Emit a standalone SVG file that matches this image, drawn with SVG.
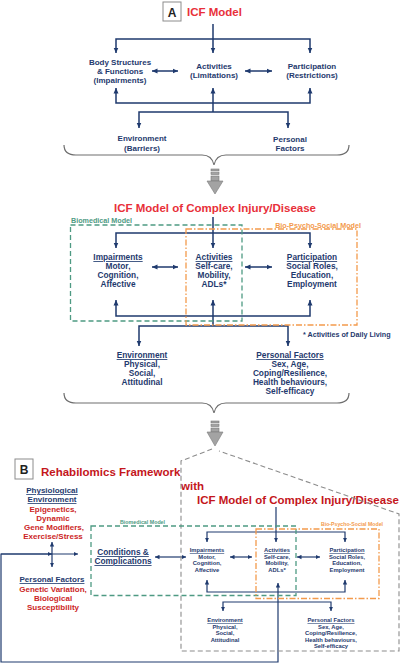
<svg xmlns="http://www.w3.org/2000/svg" width="400" height="664" viewBox="0 0 400 664">
<style>
text{font-family:"Liberation Sans",Arial,sans-serif;font-weight:bold}
.n{fill:#1f3a6e;font-size:8px;text-anchor:middle}
.m{fill:#1f3a6e;font-size:8.3px;text-anchor:middle}
.s{fill:#1f3a6e;font-size:5.8px;text-anchor:middle}
.r{fill:#cc1f26;font-size:8px;text-anchor:middle}
.u{text-decoration:underline}
.t1{fill:#e8303a;font-size:11.5px}
.t2{fill:#c4161c;font-size:11.5px}
.ln{fill:none;stroke:#1f3a6e;stroke-width:1.5}
.lns{fill:none;stroke:#1f3a6e;stroke-width:1.2}
.a{marker-end:url(#ah)}
.aa{marker-start:url(#ah);marker-end:url(#ah)}
.sa{marker-end:url(#as)}
.saa{marker-start:url(#as);marker-end:url(#as)}
.brace{fill:none;stroke:#6e6e6e;stroke-width:1.2}
.garrow{fill:#a3a3a3;stroke:#7a7a7a;stroke-width:0.6}
.green{fill:none;stroke:#4e9a83;stroke-width:1.3;stroke-dasharray:5,3}
.orange{fill:none;stroke:#f39a4c;stroke-width:1.3;stroke-dasharray:6,2,1.5,2}
.grey{fill:none;stroke:#8c8c8c;stroke-width:1.1;stroke-dasharray:5,3}
.box{fill:#fff;stroke:#8c8c8c;stroke-width:1}
</style>
<defs>
<marker id="ah" markerUnits="userSpaceOnUse" markerWidth="6" markerHeight="6" refX="5.5" refY="3" orient="auto-start-reverse"><path d="M0,0.5 L5.5,3 L0,5.5 z" fill="#1f3a6e"/></marker>
<marker id="as" markerUnits="userSpaceOnUse" markerWidth="5" markerHeight="5" refX="4.5" refY="2.5" orient="auto-start-reverse"><path d="M0,0.3 L4.5,2.5 L0,4.7 z" fill="#1f3a6e"/></marker>
</defs>

<!-- Section A header -->
<g id="hdr-a">
<rect class="box" x="163" y="2" width="18" height="19"/>
<text x="172" y="16.5" style="font-size:12px;fill:#222;text-anchor:middle">A</text>
<text class="t1" x="187" y="16">ICF Model</text>
</g>

<!-- connectors -->
<g id="connectors">
<!-- top -->
<path class="ln a" d="M213,24 V53"/>
<path class="ln aa" d="M116,53 V39 H310 V53"/>
<path class="ln aa" d="M152,71 H178"/>
<path class="ln aa" d="M245,71 H272"/>
<path class="ln aa" d="M116,88 V103 H310 V88"/>
<path class="ln" d="M213,88 V112" style="marker-start:url(#ah)"/>
<path class="ln aa" d="M139,128 V112 H288 V128"/>
<!-- middle -->
<path class="ln a" d="M213,217 V248"/>
<path class="ln aa" d="M116,248 V233 H310 V248"/>
<path class="ln aa" d="M152,267 H178"/>
<path class="ln aa" d="M245,267 H272"/>
<path class="ln aa" d="M116,300 V316 H310 V300"/>
<path class="ln" d="M213,300 V326" style="marker-start:url(#ah)"/>
<path class="ln aa" d="M139,346 V326 H288 V346"/>
<!-- bottom -->
<path class="lns saa" d="M52,542 V567"/>
<path class="lns sa" d="M1,554 H78"/>
<path class="lns saa" d="M52,554 H1 V662 H278 V583"/>
<path class="lns saa" d="M155,557 H186"/>
<path class="lns sa" d="M276,507 V542"/>
<path class="lns saa" d="M207,542 V532 H345 V542"/>
<path class="lns saa" d="M230,557 H252"/>
<path class="lns saa" d="M297,557 H320"/>
<path class="lns saa" d="M207,580 V592 H345 V580"/>
<path class="lns saa" d="M223,611 V602 H331 V611"/>
</g>

<!-- braces and grey arrows -->
<g id="transition-1">
<path class="brace" d="M64,145 Q64,155 76,155 L202,155 Q212,155 214,165 Q216,155 226,155 L337,155 Q349,155 349,145"/>
<rect class="garrow" x="211" y="169" width="8" height="2"/>
<rect class="garrow" x="211" y="172.5" width="8" height="2"/>
<rect class="garrow" x="211" y="176" width="8" height="5"/>
<polygon class="garrow" points="207,181 223,181 215,194"/>
</g>
<g id="transition-2">
<path class="brace" d="M64,393 Q64,403 76,403 L202,403 Q212,403 214,413 Q216,403 226,403 L337,403 Q349,403 349,393"/>
<rect class="garrow" x="211" y="421" width="8" height="2"/>
<rect class="garrow" x="211" y="424.5" width="8" height="2"/>
<rect class="garrow" x="211" y="428" width="8" height="4"/>
<polygon class="garrow" points="207,432 223,432 215,446"/>
</g>

<!-- Section A nodes -->
<g id="a-body"><text class="n" x="120" y="65">Body Structures</text><text class="n" x="120" y="74">&amp; Functions</text><text class="n" x="120" y="83">(Impairments)</text></g>
<g id="a-activities"><text class="n" x="214" y="69">Activities</text><text class="n" x="214" y="78">(Limitations)</text></g>
<g id="a-participation"><text class="n" x="312" y="69">Participation</text><text class="n" x="312" y="78">(Restrictions)</text></g>
<g id="a-environment"><text class="n" x="142" y="141">Environment</text><text class="n" x="142" y="150.5">(Barriers)</text></g>
<g id="a-personal"><text class="n" x="290" y="141.5">Personal</text><text class="n" x="290" y="151">Factors</text></g>

<!-- Middle section -->
<g id="m-title"><text class="t1" x="215" y="212" style="text-anchor:middle">ICF Model of Complex Injury/Disease</text></g>
<g id="m-biomedical">
<rect class="green" x="70.5" y="225" width="171.5" height="96"/>
<text x="71" y="222.5" style="fill:#4e9a83;font-size:7.2px">Biomedical Model</text>
</g>
<g id="m-biopsychosocial">
<rect class="orange" x="186" y="229" width="171" height="96"/>
<text x="361" y="227.5" style="fill:#f39a4c;font-size:7.2px;text-anchor:end">Bio-Psycho-Social Model</text>
</g>
<g id="m-impairments"><text class="m u" x="118" y="260">Impairments</text><text class="m" x="118" y="269">Motor,</text><text class="m" x="118" y="278">Cognition,</text><text class="m" x="118" y="287">Affective</text></g>
<g id="m-activities"><text class="m u" x="214" y="260">Activities</text><text class="m" x="214" y="269">Self-care,</text><text class="m" x="214" y="278">Mobility,</text><text class="m" x="214" y="287">ADLs*</text></g>
<g id="m-participation"><text class="m u" x="312" y="260">Participation</text><text class="m" x="312" y="269">Social Roles,</text><text class="m" x="312" y="278">Education,</text><text class="m" x="312" y="287">Employment</text></g>
<g id="m-note"><text x="303" y="337" style="fill:#1f3a6e;font-size:7.2px">* Activities of Daily Living</text></g>
<g id="m-environment"><text class="m u" x="142" y="358">Environment</text><text class="m" x="142" y="367">Physical,</text><text class="m" x="142" y="376">Social,</text><text class="m" x="142" y="385">Attitudinal</text></g>
<g id="m-personal"><text class="m u" x="290" y="358">Personal Factors</text><text class="m" x="290" y="367">Sex, Age,</text><text class="m" x="290" y="376">Coping/Resilience,</text><text class="m" x="290" y="385">Health behaviours,</text><text class="m" x="290" y="394">Self-efficacy</text></g>

<!-- Section B -->
<g id="hdr-b">
<rect class="box" x="15" y="459" width="18" height="20"/>
<text x="24" y="474" style="font-size:12px;fill:#222;text-anchor:middle">B</text>
<text class="t2" x="41" y="475.5">Rehabilomics Framework</text>
<text class="t2" x="181" y="490">with</text>
<text class="t2" x="197" y="503.5">ICF Model of Complex Injury/Disease</text>
</g>
<g id="b-frame"><path class="grey" d="M212,449 L181,461 V651 H399 V514 L219,451"/></g>
<g id="b-physiological"><text class="n u" x="52" y="493">Physiological</text><text class="n u" x="52" y="502">Environment</text><text class="r" x="53" y="512">Epigenetics,</text><text class="r" x="53" y="521">Dynamic</text><text class="r" x="54" y="530">Gene Modifiers,</text><text class="r" x="53" y="539">Exercise/Stress</text></g>
<g id="b-personal"><text class="n u" x="52" y="582">Personal Factors</text><text class="r" x="53" y="591.5">Genetic Variation,</text><text class="r" x="53" y="600.5">Biological</text><text class="r" x="53" y="609.5">Susceptibility</text></g>
<g id="b-biomedical">
<rect class="green" x="91" y="526" width="205" height="69.5"/>
<text x="120" y="524" style="fill:#4e9a83;font-size:5.3px">Biomedical Model</text>
</g>
<g id="b-biopsychosocial">
<rect class="orange" x="256" y="529" width="123" height="69.5"/>
<text x="383" y="525.5" style="fill:#f39a4c;font-size:5.2px;text-anchor:end">Bio-Psycho-Social Model</text>
</g>
<g id="b-conditions"><text class="m u" x="123" y="555">Conditions &amp;</text><text class="m u" x="123" y="564">Complications</text></g>
<g id="b-impairments"><text class="s u" x="207" y="552">Impairments</text><text class="s" x="207" y="558.5">Motor,</text><text class="s" x="207" y="565">Cognition,</text><text class="s" x="207" y="571.5">Affective</text></g>
<g id="b-activities"><text class="s u" x="277" y="552">Activities</text><text class="s" x="277" y="558.5">Self-care,</text><text class="s" x="277" y="565">Mobility,</text><text class="s" x="277" y="571.5">ADLs*</text></g>
<g id="b-participation"><text class="s u" x="347" y="552">Participation</text><text class="s" x="347" y="558.5">Social Roles,</text><text class="s" x="347" y="565">Education,</text><text class="s" x="347" y="571.5">Employment</text></g>
<g id="b-environment"><text class="s u" x="225" y="622">Environment</text><text class="s" x="225" y="628.5">Physical,</text><text class="s" x="225" y="635">Social,</text><text class="s" x="225" y="641.5">Attitudinal</text></g>
<g id="b-personalfactors"><text class="s u" x="331" y="622">Personal Factors</text><text class="s" x="331" y="628.5">Sex, Age,</text><text class="s" x="331" y="635">Coping/Resilience,</text><text class="s" x="331" y="641.5">Health behaviours,</text><text class="s" x="331" y="648">Self-efficacy</text></g>
</svg>
